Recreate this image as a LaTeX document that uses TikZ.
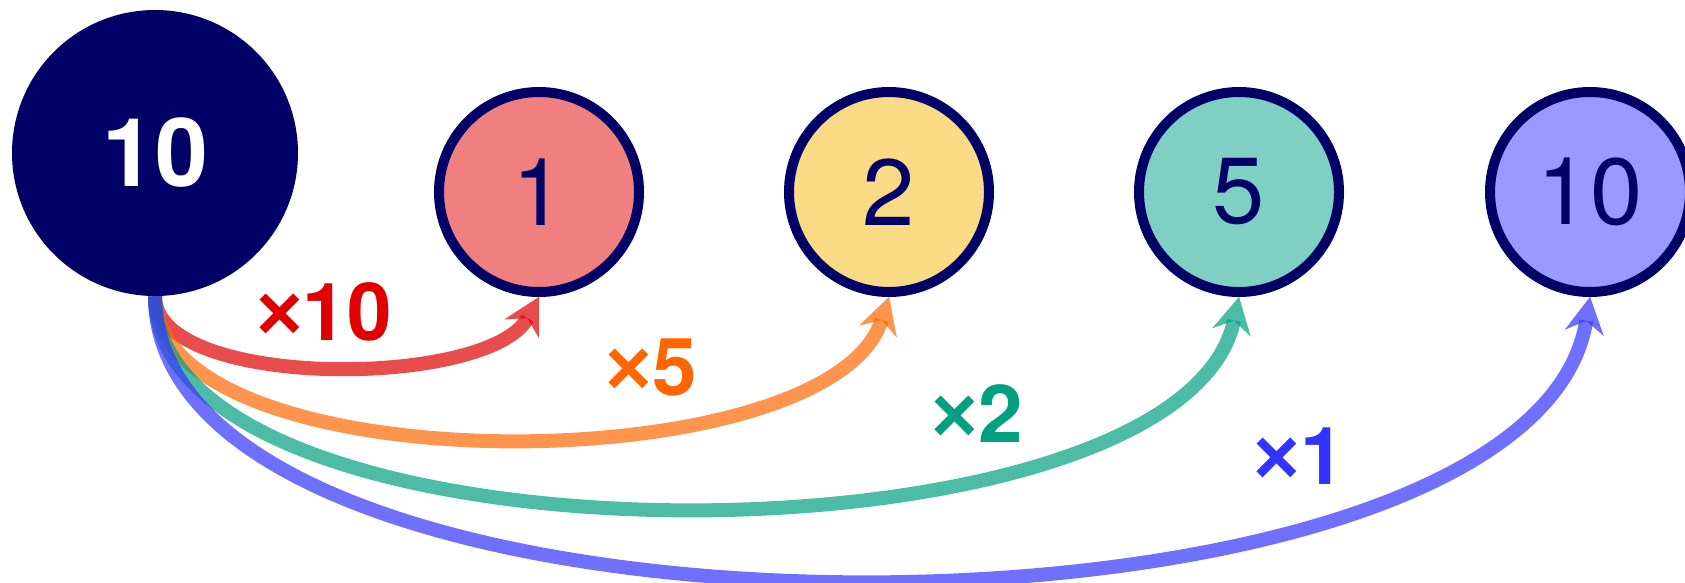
\documentclass[tikz,border=0pt]{standalone}
\usepackage{fontspec}
\setmainfont{TeX Gyre Heros}
\newfontfamily\heros{TeX Gyre Heros}
\newfontfamily\lsans{Liberation Sans}
\usetikzlibrary{arrows.meta}
\definecolor{navy}{HTML}{000066}
\definecolor{fillred}{HTML}{F08080}
\definecolor{fillyellow}{HTML}{FADA85}
\definecolor{fillteal}{HTML}{80CFC3}
\definecolor{fillblue}{HTML}{9999FF}
\definecolor{cred}{HTML}{E00000}
\definecolor{corange}{HTML}{FF6600}
\definecolor{cteal}{HTML}{00A080}
\definecolor{cblue}{HTML}{3333FF}
\newcommand{\tms}{{\lsans\bfseries ×}}
\begin{document}
\begin{tikzpicture}[x=1pt,y=-1pt,
  bignode/.style={circle, fill=navy, minimum size=286pt, inner sep=0pt, text=white,
    font=\heros\fontsize{95}{95}\selectfont\bfseries},
  numnode/.style={circle, draw=navy, line width=10pt, minimum size=200pt, inner sep=0pt, text=navy,
    font=\heros\fontsize{94}{94}\selectfont},
  conn/.style={line width=14pt, opacity=0.7,
    -{Stealth[length=36pt,width=39pt,inset=12pt,line width=0.01pt]}},
  lbl/.style={inner sep=0pt, font=\heros\fontsize{80}{80}\selectfont\bfseries}]
\useasboundingbox (0,0) rectangle (1685,582);

\node[bignode] (big) at (155,153) {10};
\node[numnode, fill=fillred] (n1) at (539,192) {1};
\node[numnode, fill=fillyellow] (n2) at (889,192) {2};
\node[numnode, fill=fillteal] (n3) at (1239,192) {5};
\node[numnode, fill=fillblue] (n4) at (1590,192) {10};

\draw[conn, cred] (big.south) .. controls +(0,94) and +(-50,92) .. (n1.south);
\draw[conn, corange] (big.south) .. controls +(0,190) and +(-60,188) .. (n2.south);
\draw[conn, cteal] (big.south) .. controls +(0,282) and +(-60,280) .. (n3.south);
\draw[conn, cblue] (big.south) .. controls +(0,378) and +(-60,376) .. (n4.south);

\node[lbl, text=cred] (l1) at (324,312) {\tms10};
\node[lbl, text=corange] (l2) at (651,367) {\tms5};
\node[lbl, text=cteal] (l3) at (977,414) {\tms2};
\node[lbl, text=cblue] (l4) at (1299,456) {\tms1};
\end{tikzpicture}
\end{document}
